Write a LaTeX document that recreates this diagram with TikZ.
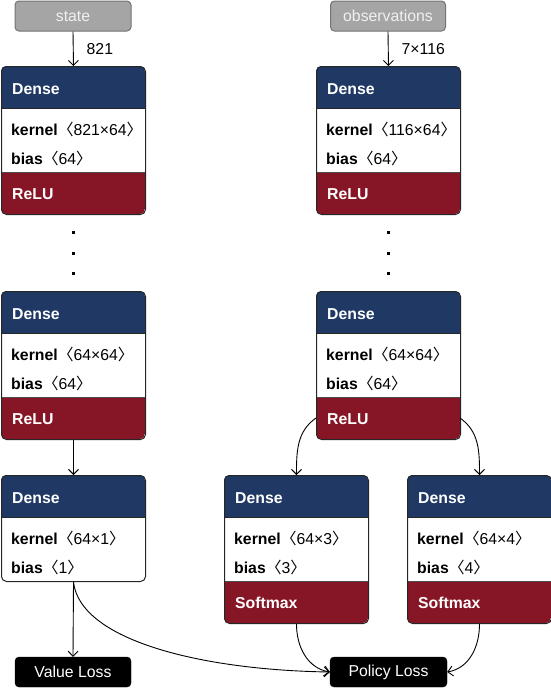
\documentclass[tikz,border=0pt]{standalone}
\usepackage{fontspec}
\setmainfont{Liberation Sans}
\newfontfamily\cjk{Noto Sans CJK SC}
\usepackage{tikz}
\usetikzlibrary{arrows.meta}
\usepackage{xcolor}

\definecolor{navy}{HTML}{1F3864}
\definecolor{relured}{HTML}{861625}
\definecolor{boxgray}{HTML}{A5A5A5}
\newcommand{\angL}{{\cjk 〈}}
\newcommand{\angR}{{\cjk 〉}}

\tikzset{
  frame/.style={draw=black!85, line width=1pt, rounded corners=5pt, minimum width=144pt, inner sep=0pt, anchor=north west},
  txt/.style={anchor=base west, inner sep=0pt},
  arr/.style={-{Straight Barb[length=5pt,width=10pt]}, line width=0.9pt},
  lbl/.style={right=13pt, inner sep=0pt},
  inbox/.style={fill=boxgray, draw=black!55, line width=1pt, rounded corners=4pt, text=white!94!black, minimum width=116pt, minimum height=30pt, inner sep=0pt},
  lossbox/.style={fill=black, draw=black, rounded corners=4pt, text=white, minimum width=116pt, minimum height=30pt, inner sep=0pt},
}

% #1 name, #2 x, #3 y (top), #4 kernel, #5 bias, #6 activation (empty = none)
\newcommand{\denselayer}[6]{%
  \def\layact{#6}%
  \ifx\layact\empty \def\layhgt{106}\else \def\layhgt{148}\fi
  \begin{scope}
    \clip[rounded corners=5pt] (#2,#3) rectangle ++(144,\layhgt);
    \fill[white] (#2,#3) rectangle ++(144,\layhgt);
    \fill[navy] (#2,#3) rectangle ++(144,42);
    \ifx\layact\empty\else \fill[relured] (#2,#3+106) rectangle ++(144,42);\fi
  \end{scope}
  \draw[black!85, line width=1pt] (#2,#3+42) -- ++(144,0);
  \ifx\layact\empty\else \draw[black!70, line width=0.6pt] (#2,#3+106) -- ++(144,0);\fi
  \node[frame, minimum height=\layhgt pt] (#1) at (#2,#3) {};
  \node[txt, text=white] at (#2+11,#3+28) {\textbf{Dense}};
  \node[txt] at (#2+10,#3+69) {\textbf{kernel}\angL#4\angR};
  \node[txt] at (#2+10,#3+98) {\textbf{bias}\angL#5\angR};
  \ifx\layact\empty\else
    \node[txt, text=white] at (#2+11,#3+133) {\textbf{#6}};
  \fi
  \coordinate (#1-aw) at (#2,#3+127);     % side points of the activation band
  \coordinate (#1-ae) at (#2+144,#3+127);
}

\begin{document}
\begin{tikzpicture}[x=1pt,y=-1pt,font=\fontsize{15.8}{18}\selectfont]
  \useasboundingbox (0,0) rectangle (551,689);

  % inputs
  \node[inbox] (state) at (73,16) {state};
  \node[inbox, minimum width=115pt] (obs) at (388,16) {observations};

  % value branch
  \denselayer{L1}{1}{66}{821×64}{64}{ReLU}
  \denselayer{L2}{1}{291}{64×64}{64}{ReLU}
  \denselayer{V}{1}{475}{64×1}{1}{}

  % policy branch
  \denselayer{R1}{316}{66}{116×64}{64}{ReLU}
  \denselayer{R2}{316}{291}{64×64}{64}{ReLU}
  \denselayer{P1}{224}{475}{64×3}{3}{Softmax}
  \denselayer{P2}{407}{475}{64×4}{4}{Softmax}

  \foreach \y in {232,253,273}{% dots between layers
    \fill (71.5,\y-1.5) rectangle ++(3,3);
    \fill (386.5,\y-1.5) rectangle ++(3,3);
  }

  % losses
  \node[lossbox] (vloss) at (73,672) {Value Loss};
  \node[lossbox, minimum width=117pt] (ploss) at (388.5,672) {Policy Loss};

  \draw[arr] (state.south) -- node[lbl] {821} (L1.north);
  \draw[arr] (obs.south) -- node[lbl] {7×116} (R1.north);
  \draw[arr] (L2.south) -- (V.north);
  \draw[arr] (R2-aw) to[out=215,in=90] (P1.north);
  \draw[arr] (R2-ae) to[out=-35,in=90] (P2.north);
  \draw[arr] (V.south) -- (vloss.north);
  \draw[arr] (V.south) .. controls (80,640) and (200,670) .. (ploss.west);
  \draw[arr] (P1.south) to[out=-90,in=170] (ploss.west);
  \draw[arr] (P2.south) to[out=-90,in=10] (ploss.east);
\end{tikzpicture}
\end{document}
